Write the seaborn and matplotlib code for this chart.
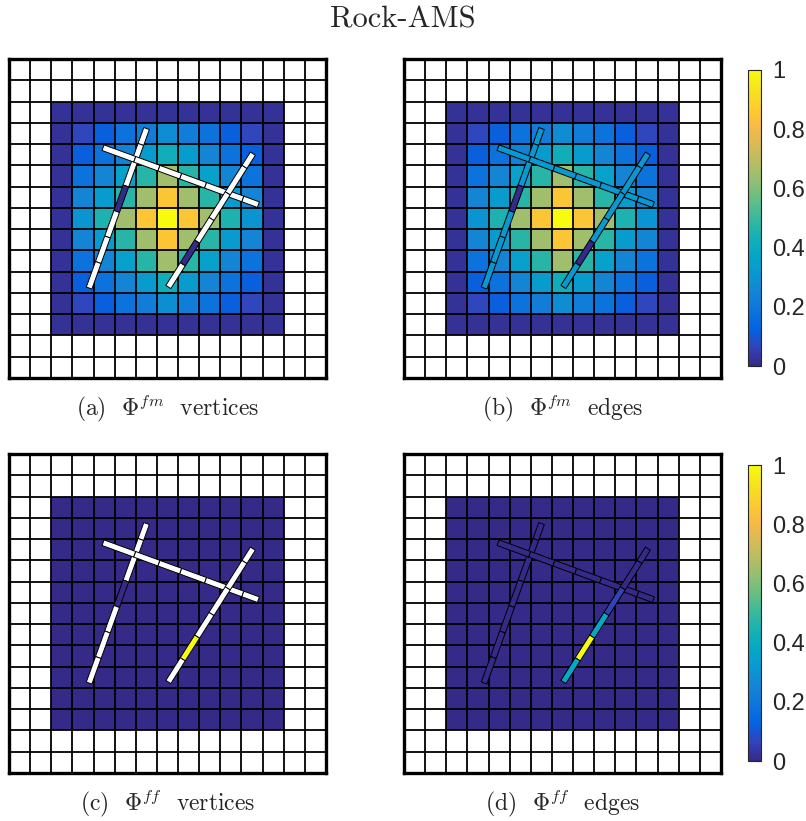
import numpy as np
import matplotlib
matplotlib.use("Agg")
import matplotlib.pyplot as plt
from matplotlib.colors import LinearSegmentedColormap, Normalize
from matplotlib.patches import Polygon
import seaborn as sns

sns.set_theme(style="white")
plt.rcParams["mathtext.fontset"] = "cm"

# Parula-like colormap anchors
parula_rgb = [
    (0.2081, 0.1663, 0.5292), (0.1959, 0.2645, 0.7279), (0.0117, 0.3875, 0.8820),
    (0.0498, 0.4586, 0.8641), (0.0793, 0.5200, 0.8312), (0.0343, 0.5966, 0.8199),
    (0.0228, 0.6535, 0.7768), (0.0843, 0.6928, 0.7062), (0.2178, 0.7250, 0.6193),
    (0.3953, 0.7459, 0.5244), (0.5709, 0.7485, 0.4494), (0.7184, 0.7411, 0.3905),
    (0.8507, 0.7299, 0.3360), (0.9739, 0.7314, 0.2666), (0.9880, 0.8066, 0.1794),
    (0.9589, 0.8949, 0.1132), (0.9763, 0.9831, 0.0538),
]
parula = LinearSegmentedColormap.from_list("parula", parula_rgb, N=256)

# Grid: 15 x 15 cells, matrix block occupies rows/cols 2..12
n_cells = 15
block_start = 2

# Matrix values of the fracture-matrix basis function (rows top -> bottom)
phi_fm = [
    [.02, .02, .02, .02, .02, .02, .02, .02, .02, .02, .02],
    [.02, .07, .12, .18, .22, .28, .22, .18, .12, .07, .02],
    [.02, .12, .18, .24, .33, .42, .33, .25, .18, .12, .02],
    [.02, .18, .25, .35, .47, .65, .47, .35, .25, .18, .02],
    [.02, .25, .33, .47, .65, .85, .65, .47, .33, .25, .02],
    [.02, .30, .45, .65, .85, 1.0, .85, .65, .45, .30, .02],
    [.02, .25, .33, .47, .65, .85, .65, .47, .33, .25, .02],
    [.02, .18, .25, .35, .47, .65, .47, .35, .25, .18, .02],
    [.02, .12, .18, .25, .33, .42, .33, .25, .18, .12, .02],
    [.02, .07, .12, .18, .22, .28, .22, .18, .12, .07, .02],
    [.02, .02, .02, .02, .02, .02, .02, .02, .02, .02, .02],
]
# Fracture-fracture basis function vanishes in the matrix
phi_ff_level = 0.0

# Fracture end points (x = column, y = row from top)
frac_start = [(6.51, 3.27), (4.45, 4.17), (11.54, 4.45)]
frac_end = [(3.79, 10.77), (11.80, 6.85), (7.54, 10.72)]
# Segment break points along each fracture (parametric 0..1)
frac_breaks = [
    [0.0, 0.10, 0.204, 0.36, 0.52, 0.68, 0.84, 1.0],
    [0.0, 0.204, 0.36, 0.50, 0.66, 0.796, 0.90, 1.0],
    [0.0, 0.10, 0.298, 0.49, 0.66, 0.83, 1.0],
]
nan = np.nan
# Segment values per panel (nan = not shown / white)
seg_a = [[nan, nan, nan, 0.0, nan, nan, nan],
         [nan] * 7,
         [nan, nan, nan, nan, 0.0, nan]]
seg_b = [[.32, .32, .32, 0.0, .32, .32, .32],
         [.32] * 7,
         [.32, .32, .32, .32, 0.0, .32]]
seg_c = [[nan, nan, nan, 0.0, nan, nan, nan],
         [nan] * 7,
         [nan, nan, nan, nan, 1.0, nan]]
seg_d = [[0.0] * 7,
         [0.0] * 7,
         [0.0, 0.0, 0.06, 0.38, 1.0, 0.38]]

captions = [("(a)", r"$\Phi^{fm}$", "vertices"), ("(b)", r"$\Phi^{fm}$", "edges"),
            ("(c)", r"$\Phi^{ff}$", "vertices"), ("(d)", r"$\Phi^{ff}$", "edges")]
cbar_ticks = [0, 0.2, 0.4, 0.6, 0.8, 1]
cbar_labels = ["0", "0.2", "0.4", "0.6", "0.8", "1"]
title = "Rock-AMS"


def full_grid(block):
    grid = np.full((n_cells, n_cells), np.nan)
    b = np.asarray(block, dtype=float)
    grid[block_start:block_start + b.shape[0], block_start:block_start + b.shape[1]] = b
    return grid


def seg_polygon(a, b, t0, t1, half_w=0.14):
    a, b = np.asarray(a), np.asarray(b)
    d = b - a
    nrm = np.array([-d[1], d[0]]) / np.hypot(*d) * half_w
    p0, p1 = a + t0 * d, a + t1 * d
    return [p0 + nrm, p1 + nrm, p1 - nrm, p0 - nrm]


W, H = 806, 821
fig = plt.figure(figsize=(W / 100, H / 100), dpi=100)
norm = Normalize(0, 1)

def fx(px):
    return px / W

def fy(py):
    return 1 - py / H

ax_w, ax_h = 317 / W, 319 / H
panels = [
    (9, 378, full_grid(phi_fm), seg_a, None),
    (404, 378, full_grid(phi_fm), seg_b, (748, 366, 70)),
    (9, 773, full_grid(np.full((11, 11), phi_ff_level)), seg_c, None),
    (404, 773, full_grid(np.full((11, 11), phi_ff_level)), seg_d, (748, 761, 465)),
]

for k, (left, bottom, grid, segs, cb) in enumerate(panels):
    ax = fig.add_axes([fx(left), fy(bottom), ax_w, ax_h])
    cax = None
    if cb is not None:
        cx, cb_bottom, cb_top = cb
        cax = fig.add_axes([fx(cx), fy(cb_bottom), 13 / W, (cb_bottom - cb_top) / H])
    sns.heatmap(grid, ax=ax, cmap=parula, vmin=0, vmax=1, cbar=cb is not None,
                cbar_ax=cax, xticklabels=False, yticklabels=False, linewidths=0)
    ax.set_facecolor("white")
    ax.hlines(np.arange(n_cells + 1), 0, n_cells, colors="black", lw=1.3, zorder=2)
    ax.vlines(np.arange(n_cells + 1), 0, n_cells, colors="black", lw=1.3, zorder=2)
    ax.set_xlim(0, n_cells)
    ax.set_ylim(n_cells, 0)
    ax.tick_params(length=0)
    for s in ax.spines.values():
        s.set_visible(True)
        s.set_color("black")
        s.set_linewidth(2.4)

    for f in range(3):
        br = frac_breaks[f]
        for j in range(len(br) - 1):
            v = segs[f][j]
            fc = "white" if np.isnan(v) else parula(norm(v))
            poly = Polygon(seg_polygon(frac_start[f], frac_end[f], br[j], br[j + 1]),
                           closed=True, facecolor=fc, edgecolor="black", lw=0.7, zorder=3)
            ax.add_patch(poly)

    if cax is not None:
        cbar = ax.collections[0].colorbar
        cbar.outline.set_visible(True)
        cbar.outline.set_linewidth(0.8)
        cbar.outline.set_edgecolor("#262626")
        cbar.set_ticks(cbar_ticks)
        cbar.set_ticklabels(cbar_labels)
        cax.tick_params(direction="in", length=4, width=0.8, colors="#262626",
                        right=True, left=False, labelsize=17, pad=8)
        for lab in cax.get_yticklabels():
            lab.set_fontfamily("Liberation Sans")

    cap_y = 415 if k < 2 else 810
    tag, sym, word = captions[k]
    fig.text(fx(left + 158.5), fy(cap_y), f"{tag}  {sym}  {word}", ha="center",
             va="baseline", fontsize=17, fontfamily="cmr10")

fig.text(0.5, fy(28), title, ha="center", va="baseline", fontsize=22, fontfamily="cmr10")

fig.savefig("out.png", dpi=100)
